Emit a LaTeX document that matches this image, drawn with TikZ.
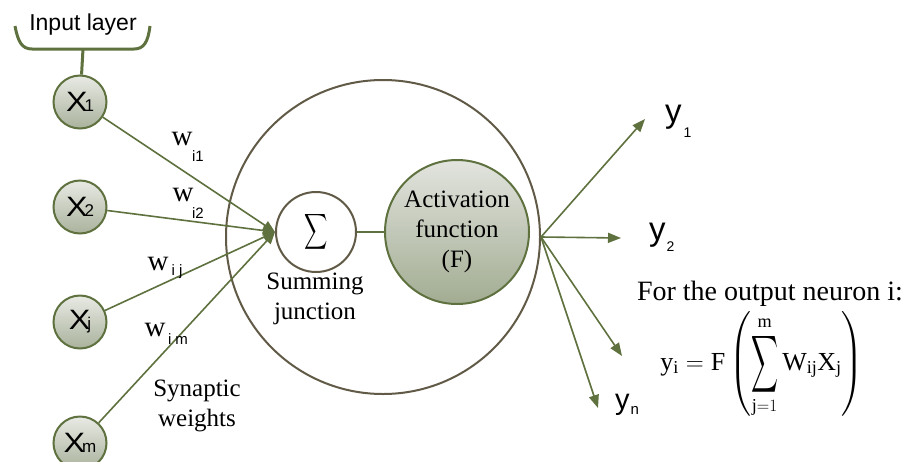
\documentclass[tikz,border=0pt]{standalone}
\usepackage{fontspec}
\setmainfont{Liberation Serif}
\newfontfamily\arialf{Liberation Sans}
\usepackage{amsmath}
\usepackage{graphicx}
\usetikzlibrary{arrows.meta}
\definecolor{eg}{RGB}{94,113,62}
\definecolor{cb}{RGB}{96,90,70}
\definecolor{ctop}{RGB}{232,234,228}
\definecolor{cbot}{RGB}{170,178,156}
\definecolor{atop}{RGB}{226,228,222}
\definecolor{abot}{RGB}{162,172,146}
\newcommand\xlab[1]{{\arialf\fontsize{28}{28}\selectfont\scalebox{1.15}[1]{X}\kern-3pt{\fontsize{17}{17}\selectfont #1}}}
\begin{document}
\begin{tikzpicture}[x=1pt,y=-1pt,
  xin/.style={circle, draw=eg, line width=2pt, minimum size=53pt, inner sep=0pt, top color=ctop, bottom color=cbot},
  edge/.style={draw=eg, line width=1.6pt, -{Triangle[length=12pt,width=10pt]}},
  oedge/.style={draw=eg, line width=1.6pt, -{Triangle[length=13pt,width=10pt]}},
  serif/.style={font=\fontsize{25}{30}\selectfont, align=center, inner sep=0pt},
  sub/.style={font=\arialf\fontsize{15}{15}\selectfont, inner sep=0pt},
  wl/.style={font=\fontsize{29}{29}\selectfont, inner sep=0pt},
  ylab/.style={font=\arialf\fontsize{33}{33}\selectfont, inner sep=0pt, anchor=base west}]
\useasboundingbox (0,0) rectangle (910,461);

% input layer brace
\node[font=\arialf\fontsize{23}{23}\selectfont, inner sep=0pt] (inl) at (83,25) {Input layer};
\draw[eg, line width=3pt] (15,26) .. controls (18,42) and (22,49) .. (32,49) -- (134,49) .. controls (144,49) and (148,42) .. (150,26);
\coordinate (stem) at (83,49);

% input neurons
\node[xin] (x1) at (80,102) {\xlab{1}};
\node[xin] (x2) at (80,207) {\xlab{2}};
\node[xin] (xj) at (80,322) {\xlab{j}};
\node[xin] (xm) at (80,443) {\xlab{m}};
\draw[eg, line width=3pt] (stem) -- (x1);

% big neuron
\node[circle, draw=cb, line width=2pt, minimum size=314pt, inner sep=0pt] (big) at (383,237) {};
\node[circle, draw=cb, line width=2pt, minimum size=80pt, inner sep=0pt, fill=white] (sum) at (316,232) {\fontsize{25}{25}\selectfont$\vcenter{\hbox{\scalebox{0.65}[1.0]{$\displaystyle\sum$}}}$};
\node[circle, draw=eg, line width=2pt, minimum size=144pt, inner sep=0pt, top color=atop, bottom color=abot, serif] (act) at (457,232) {Activation\\function\\(F)};
\draw[eg, line width=1.6pt] (sum) -- (act);

% input edges
\draw[edge] (x1) -- (sum.west);
\draw[edge] (x2) -- (sum.west);
\draw[edge] (xj) -- (sum.west);
\draw[edge] (xm) -- (sum.west);

% weight labels
\node[wl] (w1) at (182,139) {w};
\node[sub] (s1) at (198,156) {i1};
\node[wl] (w2) at (183,195) {w};
\node[sub] (s2) at (198,213) {i2};
\node[wl] (wj) at (158,264) {w};
\node[sub] (sj) at (177,272) {i j};
\node[wl] (wm) at (155,330) {w};
\node[sub] (sm) at (178,339) {i m};
\node[serif] (syn) at (197,406) {Synaptic\\weights};
\node[serif] (sj2) at (315,299) {Summing\\junction};

% outputs
\coordinate (o1) at (645,119);
\coordinate (o2) at (621,238);
\coordinate (o3) at (622,356);
\coordinate (o4) at (598,408);
\draw[oedge] (big.east) -- (o1);
\draw[oedge] (big.east) -- (o2);
\draw[oedge] (big.east) -- (o3);
\draw[oedge] (big.east) -- (o4);
\node[ylab] (y1) at (665,122) {y\kern2pt\raisebox{-15pt}{\fontsize{14}{14}\selectfont 1}};
\node[ylab] (y2) at (649,240) {y\kern1pt\raisebox{-11pt}{\fontsize{14}{14}\selectfont 2}};
\node[ylab, font=\arialf\fontsize{29}{29}\selectfont] (yn) at (615,409) {y\kern1pt\raisebox{-5pt}{\fontsize{15}{15}\selectfont n}};

% formula
\node[font=\fontsize{28}{28}\selectfont, inner sep=0pt, anchor=base] (fort) at (770,300) {For the output neuron i:};
\node[font=\fontsize{26}{26}\selectfont, inner sep=0pt] (eq) at (762,365) {$\displaystyle \mathrm{y_i} = \mathrm{F}\left(\mathop{\vcenter{\hbox{\scalebox{0.75}[1.6]{$\displaystyle\sum$}}}}\limits_{\mathrm{j}=1}^{\mathrm{m}}\mathrm{W_{ij}X_j}\right)$};
\end{tikzpicture}
\end{document}
